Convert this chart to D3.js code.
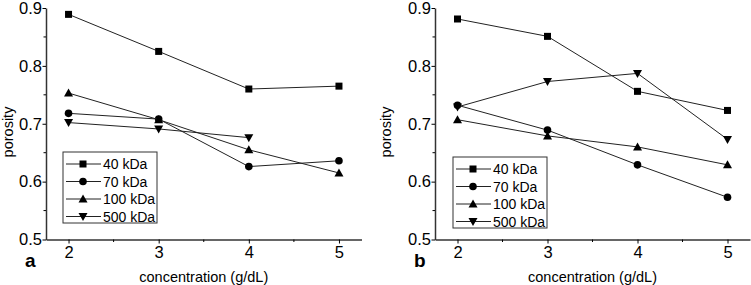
<!DOCTYPE html>
<html>
<head>
<meta charset="utf-8">
<script src="https://cdn.jsdelivr.net/npm/d3@7"></script>
<style>
  body { margin: 0; background: #fff; }
  text { font-family: "Liberation Sans", Arial, sans-serif; }
</style>
</head>
<body>
<script>
// concentrations on the x axis
const conc = [2, 3, 4, 5];
const seriesNames = ["40 kDa", "70 kDa", "100 kDa", "500 kDa"];
const symbols = ["square", "circle", "triangle", "down"];

// panel a
const a40 = [0.889, 0.825, 0.760, 0.765];
const a70 = [0.718, 0.708, 0.626, 0.636];
const a100 = [0.753, 0.707, 0.655, 0.615];
const a500 = [0.702, 0.691, 0.676];

// panel b
const b40 = [0.881, 0.851, 0.756, 0.723];
const b70 = [0.732, 0.689, 0.629, 0.573];
const b100 = [0.707, 0.679, 0.660, 0.629];
const b500 = [0.729, 0.773, 0.787, 0.673];

const yTicks = [0.5, 0.6, 0.7, 0.8, 0.9];
const xTicks = [2, 3, 4, 5];

const W = 751, H = 285;
const svg = d3.select("body").append("svg")
  .attr("width", W).attr("height", H);

function marker(g, type, x, y) {
  if (type == "square") {
    g.append("rect").attr("x", x - 3.5).attr("y", y - 3.5)
      .attr("width", 7).attr("height", 7).attr("fill", "#000");
  } else if (type == "circle") {
    g.append("circle").attr("cx", x).attr("cy", y).attr("r", 3.8).attr("fill", "#000");
  } else if (type == "triangle") {
    g.append("path").attr("d", `M${x},${y-4.5}L${x+4.5},${y+3.5}L${x-4.5},${y+3.5}Z`).attr("fill", "#000");
  } else {
    g.append("path").attr("d", `M${x},${y+4.5}L${x+4.5},${y-3.5}L${x-4.5},${y-3.5}Z`).attr("fill", "#000");
  }
}

function panel(opts) {
  const g = svg.append("g");
  const x = d3.scaleLinear().domain([1.75, 5.25]).range([opts.left, opts.right]);
  const y = d3.scaleLinear().domain([0.5, 0.9]).range([239.5, 8]);

  // axes
  const xAxis = g.append("g").attr("transform", `translate(0,${y(0.5)})`)
    .call(d3.axisBottom(x).tickValues(xTicks).tickSize(4).tickFormat(d3.format("d")).tickSizeOuter(0));
  xAxis.append("g").selectAll("line").data([2.5, 3.5, 4.5]).join("line")
    .attr("x1", d => x(d)).attr("x2", d => x(d)).attr("y1", 0).attr("y2", 2.5)
    .attr("stroke", "#000");
  const yAxis = g.append("g").attr("transform", `translate(${opts.left},0)`)
    .call(d3.axisLeft(y).tickValues(yTicks).tickSize(3.5).tickFormat(d3.format(".1f")).tickSizeOuter(0));
  yAxis.append("g").selectAll("line").data([0.55, 0.65, 0.75, 0.85]).join("line")
    .attr("y1", d => y(d)).attr("y2", d => y(d)).attr("x1", 0).attr("x2", -2.5)
    .attr("stroke", "#000");
  g.selectAll(".domain").attr("stroke", "#333").attr("stroke-width", 1.5);
  g.selectAll(".tick text").attr("font-size", 16.5).attr("fill", "#000")
    .attr("font-family", "Liberation Sans, Arial, sans-serif");
  yAxis.selectAll(".tick text").attr("x", -4);

  // series
  const line = d3.line().x((d, i) => x(conc[i])).y(d => y(d));
  opts.series.forEach((s, k) => {
    g.append("path").datum(s).attr("d", line)
      .attr("fill", "none").attr("stroke", "#222").attr("stroke-width", 1);
    s.forEach((v, i) => marker(g, symbols[k], x(conc[i]), y(v)));
  });

  // legend
  const lg = g.append("g").attr("transform", `translate(${opts.legX},${opts.legY})`);
  lg.append("rect").attr("x", 0).attr("y", 0).attr("width", 94).attr("height", 71)
    .attr("fill", "#fff").attr("stroke", "#333").attr("stroke-width", 1);
  seriesNames.forEach((n, k) => {
    const ry = 12 + k * 17.5;
    lg.append("line").attr("x1", 3).attr("x2", 38).attr("y1", ry).attr("y2", ry)
      .attr("stroke", "#222");
    marker(lg, symbols[k], 20, ry);
    lg.append("text").attr("x", 40).attr("y", ry).attr("dy", "0.36em")
      .attr("font-size", 14).text(n);
  });

  // labels
  g.append("text").attr("transform", `translate(${opts.ylabX},132) rotate(-90)`)
    .attr("text-anchor", "middle").attr("font-size", 14.5).text("porosity");
  g.append("text").attr("x", (opts.left + opts.right) / 2).attr("y", 282)
    .attr("text-anchor", "middle").attr("font-size", 14.5).text("concentration (g/dL)");
  g.append("text").attr("x", opts.left - 21).attr("y", 267)
    .attr("font-size", 19).attr("font-weight", "bold").text(opts.tag);
}

panel({ left: 46, right: 361.5, legX: 63, legY: 152, tag: "a", ylabX: 13,
        series: [a40, a70, a100, a500] });
panel({ left: 435, right: 750, legX: 453, legY: 157, tag: "b", ylabX: 391,
        series: [b40, b70, b100, b500] });
</script>
</body>
</html>
